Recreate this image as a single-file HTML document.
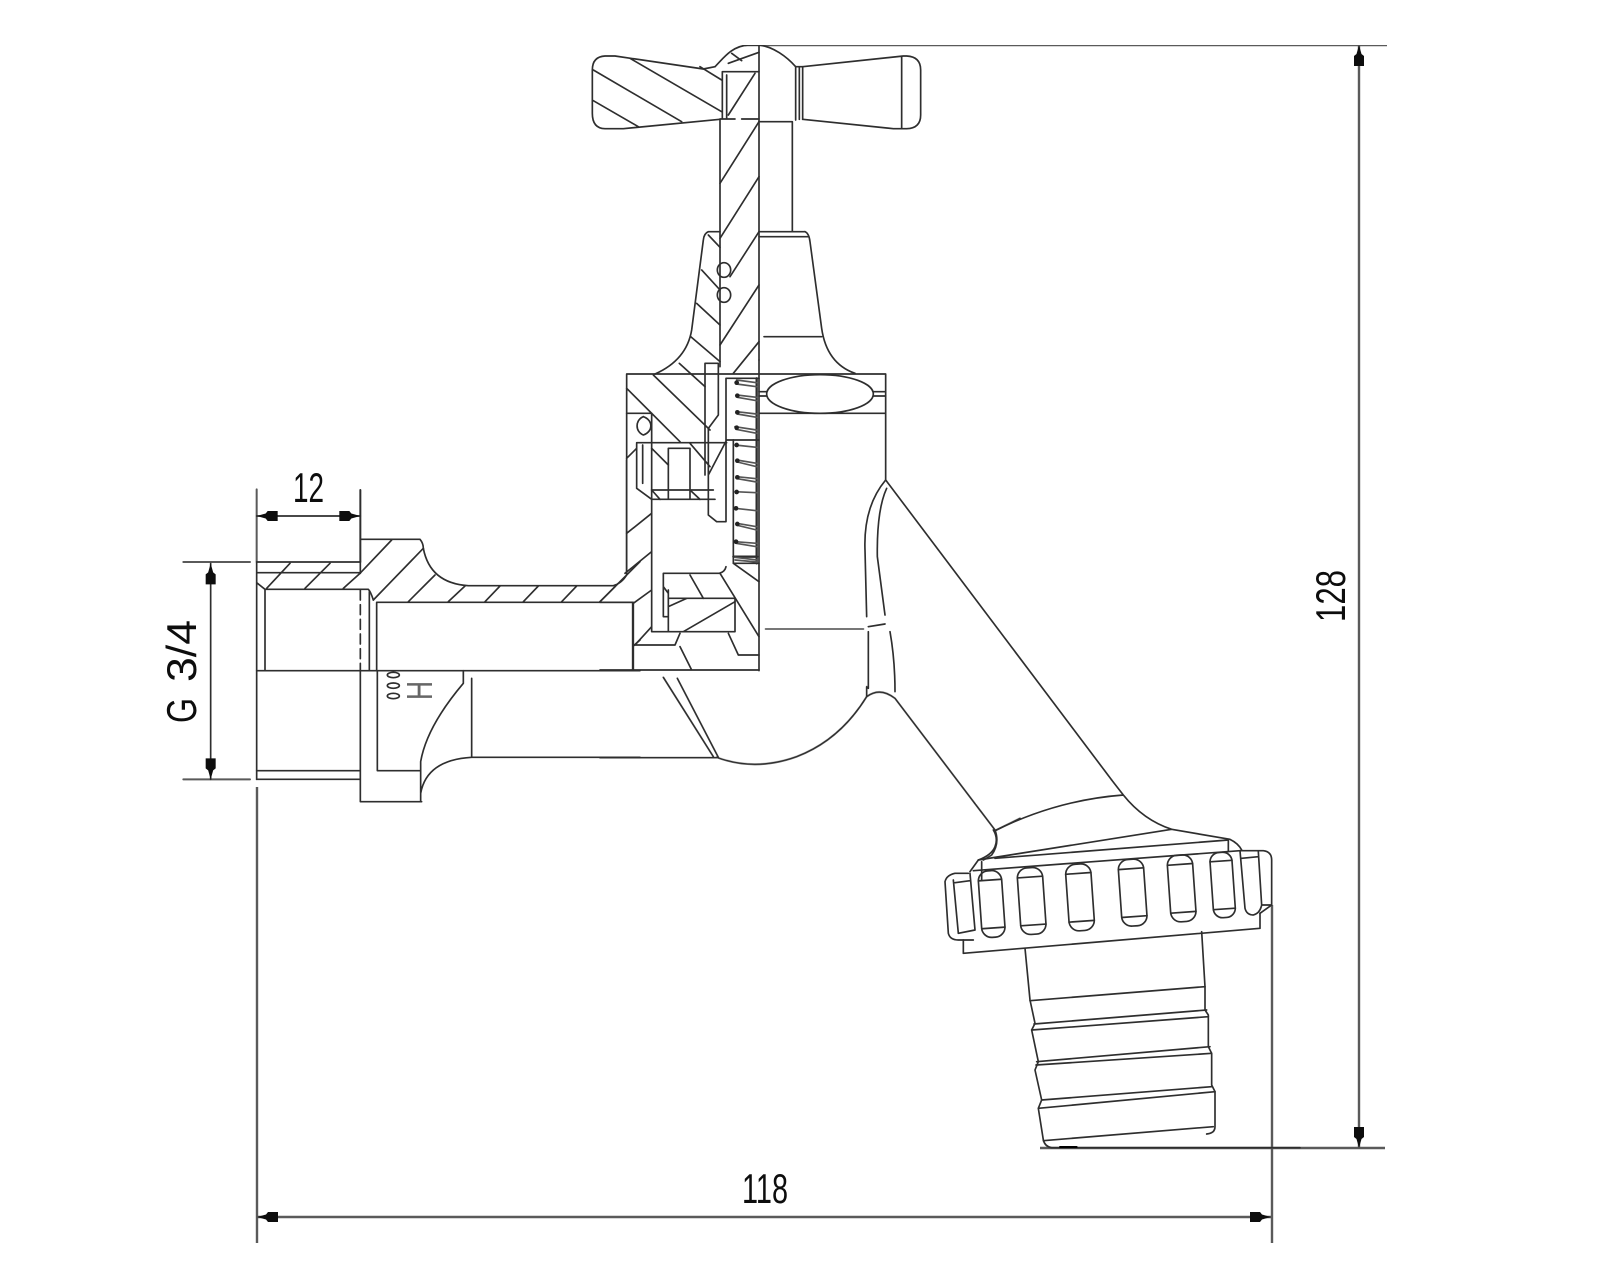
<!DOCTYPE html>
<html>
<head>
<meta charset="utf-8">
<style>
html,body{margin:0;padding:0;background:#fff;width:1600px;height:1280px;overflow:hidden}
svg{display:block}
text{font-family:"Liberation Sans",sans-serif;font-size:42px;fill:#111}
.z{fill:none;stroke:#2e2e2e;stroke-width:5;stroke-linejoin:round;stroke-linecap:round}
.d{fill:none;stroke:#5a5a5a;stroke-width:2.4}
</style>
</head>
<body>
<svg width="1600" height="1280" viewBox="0 0 1600 1280" xmlns="http://www.w3.org/2000/svg">
<defs>
<path id="a" d="M0 0L9-2.5L11-5H21V5H11L9 2.5Z" fill="#111"/>
<filter id="b" x="0" y="0" width="100%" height="100%"><feGaussianBlur stdDeviation="0.35"/></filter>
</defs>
<g filter="url(#b)">
<!-- dimensions -->
<path class="d" d="M745 45H1387M1040 1148H1385M1359 45V1148M257 1217H1271M1272 905V1243M257 787V1243"/>
<use href="#a" transform="translate(1359,45) rotate(90)"/>
<use href="#a" transform="translate(1359,1148) rotate(-90)"/>
<use href="#a" transform="translate(257,1217)"/>
<use href="#a" transform="translate(1271,1217) rotate(180)"/>
<text x="742" y="1203" textLength="46" lengthAdjust="spacingAndGlyphs">118</text>
<text transform="translate(1345,622) rotate(-90)" x="0" y="0" textLength="52" lengthAdjust="spacingAndGlyphs">128</text>
<text x="293" y="502" textLength="31" lengthAdjust="spacingAndGlyphs">12</text>
<text transform="translate(196,723) rotate(-90)" x="0" y="0" textLength="25" lengthAdjust="spacingAndGlyphs">G</text>
<text transform="translate(196,682) rotate(-90)" x="0" y="0" textLength="62" lengthAdjust="spacingAndGlyphs">3/4</text>

<!-- spout right edge connecting body to nut -->
<path d="M885.7 480L1111.7 780" fill="none" stroke="#2e2e2e" stroke-width="1.67"/>

<!-- handle and stem -->
<g transform="translate(560,20) scale(.33333)" class="z">
<path d="M465 140C490 115 515 78 565 75H597"/>
<path d="M465 140L430 147L165 108H135Q97 110 97 150V280Q97 325 135 326H190L480 298"/>
<path d="M210 115L485 275M100 150L365 305M100 242L235 320M420 140L485 180M515 100L545 122M505 130L597 97"/>
<path d="M487 155H597M487 155V295M500 165V295M505 285L585 160M480 297H525M545 297H597"/>
<path d="M480 298V1040M597 75V1020"/>
<path d="M480 490L597 305M480 655L597 470M510 770L597 635M480 975L597 795M520 1060L597 965"/>
<path d="M597 75C640 80 680 110 707 140V300M728 140V298M718 142V298"/>
<path d="M707 140L728 140L1030 108H1040Q1082 110 1082 150V285Q1082 325 1040 326H1000L728 298M1025 110V325"/>
<path d="M597 305H697V635M597 635H735M597 650H745"/>
<path d="M735 635Q747 640 750 665L785 925Q800 1030 885 1060M612 950H785"/>
<path d="M480 635H445Q432 640 430 660L395 930Q380 1020 285 1062"/>
<path d="M445 645L480 682M425 750L480 810M410 850L480 915M392 950L480 1025M358 1030L435 1100"/>
<ellipse cx="492" cy="750" rx="20" ry="22"/><ellipse cx="492" cy="825" rx="20" ry="22"/>
</g>

<!-- valve body -->
<g transform="translate(600,360) scale(.33333)" class="z">
<path d="M80 42H857V360M80 42V640M477 160H857M477 0V932"/>
<ellipse cx="660" cy="102" rx="160" ry="58" fill="#fff"/>
<path d="M477 95H500M477 108H500M820 95H857M820 108H857"/>
<path d="M80 160H155V815H405V715H205M130 170C105 180 105 215 130 225C160 215 160 180 130 170"/>
<path d="M110 248H380M155 390H340M155 418H345M110 250V385L155 418M128 255V370M205 265V418M270 265V418M205 265H270"/>
<path d="M315 10V345M315 10H355V165L325 205M325 205V465L350 485H378V55M325 345L380 240M378 55H477M380 240H477"/>
<path d="M160 45L330 210M80 85L240 245M270 250L330 320M80 295L110 265M80 520L155 460M75 640L155 575M0 725L45 680M155 265L205 315M270 390L300 418M155 390L180 418"/>
<path d="M400 240V610H477M400 610L477 665" />
<path stroke-width="7" d="M470 55V610M400 590H472"/>
<g stroke="#555">
<path d="M410 60L470 68M410 72L470 80M410 105L470 112M412 112L470 122M410 155L470 162M412 162L470 172M405 200L470 210M408 208L470 220M405 255L470 262M410 300L470 310M412 306L470 320M410 350L470 356M412 356L470 366M405 395L470 398M405 445L470 452M410 490L470 500M412 496L470 510M405 545L470 550M408 550L470 560M405 592L472 600M405 600L472 606"/>
</g>
<g fill="#222" stroke="none">
<circle cx="410" cy="68" r="7"/><circle cx="412" cy="107" r="7"/><circle cx="412" cy="157" r="7"/><circle cx="410" cy="203" r="7"/><circle cx="410" cy="255" r="7"/><circle cx="412" cy="302" r="7"/><circle cx="412" cy="352" r="7"/><circle cx="410" cy="396" r="7"/><circle cx="408" cy="445" r="7"/><circle cx="412" cy="492" r="7"/><circle cx="408" cy="545" r="7"/>
</g>
<path d="M378 620Q375 635 358 640H190V770H205M205 690V815M190 680L205 700M205 740L260 715M250 815L405 725M270 645L310 715M360 640L477 830M385 820L415 885H477"/>
<path d="M0 727H100V930M100 855H225L240 820M105 855L155 800M100 730L155 690M240 860L275 930M0 930H477"/>
<path stroke="#777" stroke-width="6" d="M497 807H790"/>
<path d="M805 800L855 792"/>
<path d="M857 360Q790 440 795 570L800 770M860 385Q830 450 832 590L855 765M805 815V985M870 815Q885 900 885 995"/>
</g>

<!-- inlet -->
<g transform="translate(160,460) scale(.33333)" class="z">
<path stroke="#5a5a5a" stroke-width="6" d="M290 88V306M601 90V306M70 306H270M70 958H270"/>
<path d="M152 310V958"/>
<path d="M290 168H601"/>
<use href="#a" transform="translate(290,168) scale(3)" stroke="none"/>
<use href="#a" transform="translate(601,168) rotate(180) scale(3)" stroke="none"/>
<use href="#a" transform="translate(152,310) rotate(90) scale(3)" stroke="none"/>
<use href="#a" transform="translate(152,958) rotate(-90) scale(3)" stroke="none"/>
<path d="M290 306H601M290 338H601M290 306V958M290 368L315 388H625Q632 395 640 420M315 388V630"/>
<path d="M320 385L390 310M435 385L510 310M550 385L600 340L695 240M640 420L790 265M745 425L825 345M865 425L915 378M975 425L1020 378M1090 425L1135 378M1205 425L1250 378M1320 425L1440 305"/>
<path d="M601 238H780Q790 250 790 265Q810 370 925 377H1360Q1385 370 1400 345V0"/>
<path d="M650 427H1418V630M628 395V630M650 427V630M1418 560L1440 540"/>
<path d="M290 632H1440M601 90V340"/>
<path d="M601 390V630" stroke-dasharray="30 14"/>
<path d="M601 632V1025H785M652 632V932H780M290 932H600M290 958H600"/>
<path d="M910 632V670Q800 800 782 905V1025M782 1000Q800 900 935 892H1440M935 655V892"/>
<ellipse cx="700" cy="645" rx="18" ry="8"/><ellipse cx="700" cy="677" rx="18" ry="8"/><ellipse cx="700" cy="708" rx="18" ry="8"/>
</g>
<text transform="translate(432,700) rotate(-90)" x="0" y="0" textLength="19" lengthAdjust="spacingAndGlyphs" style="font-size:36px;fill:#666">H</text>

<!-- bowl -->
<g transform="translate(600,600) scale(.33333)" class="z">
<path d="M0 473H350M190 232L340 470M232 235L355 472"/>
<path d="M350 472Q465 515 590 470Q720 420 800 290Q840 260 885 295L1185 690Q1200 730 1175 765L1150 780M1185 692L1260 655"/>
<path d="M800 290V260"/>
</g>

<!-- hose nut and tail -->
<g transform="translate(930,780) scale(.33333)" class="z">
<path d="M195 152Q380 60 580 45M190 150Q205 175 195 200Q185 225 145 240M545 0L580 45Q640 120 725 148L900 178Q925 190 935 210"/>
<path d="M145 240L725 148M195 235L895 180M130 272L930 212"/>
<path d="M100 480V520L990 445V400"/>
<path d="M145 240L120 275M155 245V300M895 180V215"/>
<g>
<g transform="translate(185,372) rotate(-4)"><rect x="-35" y="-100" width="70" height="200" rx="30"/><path d="M-35 -72H35M-35 72H35"/></g>
<g transform="translate(305,363) rotate(-4)"><rect x="-38" y="-100" width="76" height="200" rx="30"/><path d="M-38 -72H38M-38 72H38"/></g>
<g transform="translate(450,352) rotate(-4)"><rect x="-38" y="-100" width="76" height="200" rx="30"/><path d="M-38 -72H38M-38 72H38"/></g>
<g transform="translate(608,338) rotate(-4)"><rect x="-38" y="-100" width="76" height="200" rx="30"/><path d="M-38 -72H38M-38 72H38"/></g>
<g transform="translate(755,325) rotate(-4)"><rect x="-38" y="-100" width="76" height="200" rx="30"/><path d="M-38 -72H38M-38 72H38"/></g>
<g transform="translate(878,315) rotate(-4)"><rect x="-33" y="-98" width="66" height="196" rx="28"/><path d="M-33 -72H33M-33 72H33"/></g>
</g>
<path d="M45 305L55 460Q60 480 85 480H130M45 305Q50 285 75 280H115M70 300L85 460M120 280L135 450M75 308L120 302M85 460L135 450"/>
<path d="M930 212L945 385Q950 405 970 405Q990 400 995 375H1025M930 212H1000Q1025 215 1025 240V375L990 400M985 215L995 375M935 235L985 230"/>
<path d="M285 505L300 660L315 730L305 750L325 845L315 870L335 960L325 985L340 1080Q345 1100 365 1103H1110"/>
<path d="M815 455L825 620V690L835 705V800L845 820V915L855 935V1040Q855 1060 830 1062"/>
<path d="M300 662L825 620M312 732L830 690M305 750L835 710M320 845L840 800M318 855L845 820M335 960L845 920M325 985L855 935M340 1082L850 1040"/>
<path stroke="#000" stroke-width="6" d="M390 1101H440"/>
</g>
</g>
</svg>
</body>
</html>
